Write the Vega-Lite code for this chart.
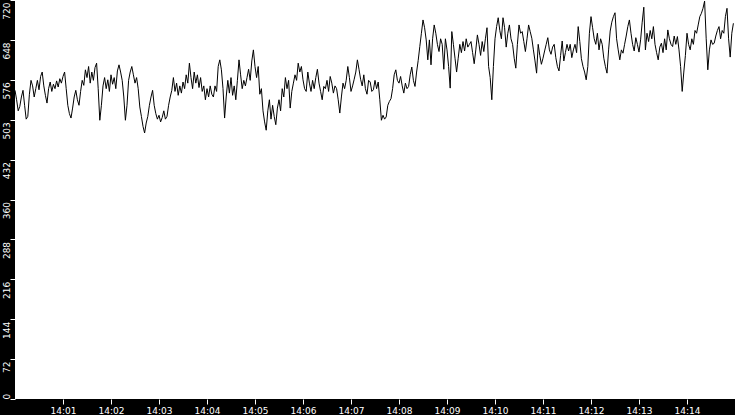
{
"$schema": "https://vega.github.io/schema/vega-lite/v6.json",
"width": 720,
"height": 399,
"autosize": {"type": "none"},
"padding": {"left": 15, "top": 0, "right": 0, "bottom": 16},
"background": "black",
"config": {"view": {"fill": "white", "stroke": null}, "font": "DejaVu Sans"},
"data": {"values": [
{"t":"2024-01-01T14:00:00","v":557},{"t":"2024-01-01T14:00:02","v":540},{"t":"2024-01-01T14:00:04","v":520},{"t":"2024-01-01T14:00:06","v":528},{"t":"2024-01-01T14:00:08","v":545},{"t":"2024-01-01T14:00:10","v":557},{"t":"2024-01-01T14:00:12","v":530},{"t":"2024-01-01T14:00:14","v":505},{"t":"2024-01-01T14:00:16","v":510},{"t":"2024-01-01T14:00:18","v":550},
{"t":"2024-01-01T14:00:20","v":575},{"t":"2024-01-01T14:00:22","v":565},{"t":"2024-01-01T14:00:24","v":545},{"t":"2024-01-01T14:00:26","v":560},{"t":"2024-01-01T14:00:28","v":575},{"t":"2024-01-01T14:00:30","v":558},{"t":"2024-01-01T14:00:32","v":582},{"t":"2024-01-01T14:00:34","v":590},{"t":"2024-01-01T14:00:36","v":565},{"t":"2024-01-01T14:00:38","v":548},
{"t":"2024-01-01T14:00:40","v":534},{"t":"2024-01-01T14:00:42","v":560},{"t":"2024-01-01T14:00:44","v":572},{"t":"2024-01-01T14:00:46","v":555},{"t":"2024-01-01T14:00:48","v":568},{"t":"2024-01-01T14:00:50","v":560},{"t":"2024-01-01T14:00:52","v":574},{"t":"2024-01-01T14:00:54","v":563},{"t":"2024-01-01T14:00:56","v":578},{"t":"2024-01-01T14:00:58","v":570},
{"t":"2024-01-01T14:01:00","v":582},{"t":"2024-01-01T14:01:02","v":590},{"t":"2024-01-01T14:01:04","v":560},{"t":"2024-01-01T14:01:06","v":530},{"t":"2024-01-01T14:01:08","v":515},{"t":"2024-01-01T14:01:10","v":507},{"t":"2024-01-01T14:01:12","v":525},{"t":"2024-01-01T14:01:14","v":545},{"t":"2024-01-01T14:01:16","v":557},{"t":"2024-01-01T14:01:18","v":540},
{"t":"2024-01-01T14:01:20","v":530},{"t":"2024-01-01T14:01:22","v":555},{"t":"2024-01-01T14:01:24","v":575},{"t":"2024-01-01T14:01:26","v":566},{"t":"2024-01-01T14:01:28","v":594},{"t":"2024-01-01T14:01:30","v":580},{"t":"2024-01-01T14:01:32","v":600},{"t":"2024-01-01T14:01:34","v":570},{"t":"2024-01-01T14:01:36","v":590},{"t":"2024-01-01T14:01:38","v":575},
{"t":"2024-01-01T14:01:40","v":598},{"t":"2024-01-01T14:01:42","v":606},{"t":"2024-01-01T14:01:44","v":560},{"t":"2024-01-01T14:01:46","v":503},{"t":"2024-01-01T14:01:48","v":530},{"t":"2024-01-01T14:01:50","v":565},{"t":"2024-01-01T14:01:52","v":580},{"t":"2024-01-01T14:01:54","v":560},{"t":"2024-01-01T14:01:56","v":576},{"t":"2024-01-01T14:01:58","v":555},
{"t":"2024-01-01T14:02:00","v":585},{"t":"2024-01-01T14:02:02","v":568},{"t":"2024-01-01T14:02:04","v":580},{"t":"2024-01-01T14:02:06","v":560},{"t":"2024-01-01T14:02:08","v":592},{"t":"2024-01-01T14:02:10","v":603},{"t":"2024-01-01T14:02:12","v":590},{"t":"2024-01-01T14:02:14","v":575},{"t":"2024-01-01T14:02:16","v":545},{"t":"2024-01-01T14:02:18","v":503},
{"t":"2024-01-01T14:02:20","v":530},{"t":"2024-01-01T14:02:22","v":575},{"t":"2024-01-01T14:02:24","v":590},{"t":"2024-01-01T14:02:26","v":600},{"t":"2024-01-01T14:02:28","v":585},{"t":"2024-01-01T14:02:30","v":570},{"t":"2024-01-01T14:02:32","v":580},{"t":"2024-01-01T14:02:34","v":560},{"t":"2024-01-01T14:02:36","v":527},{"t":"2024-01-01T14:02:38","v":510},
{"t":"2024-01-01T14:02:40","v":492},{"t":"2024-01-01T14:02:42","v":480},{"t":"2024-01-01T14:02:44","v":498},{"t":"2024-01-01T14:02:46","v":510},{"t":"2024-01-01T14:02:48","v":530},{"t":"2024-01-01T14:02:50","v":545},{"t":"2024-01-01T14:02:52","v":557},{"t":"2024-01-01T14:02:54","v":530},{"t":"2024-01-01T14:02:56","v":515},{"t":"2024-01-01T14:02:58","v":505},
{"t":"2024-01-01T14:03:00","v":512},{"t":"2024-01-01T14:03:02","v":500},{"t":"2024-01-01T14:03:04","v":508},{"t":"2024-01-01T14:03:06","v":520},{"t":"2024-01-01T14:03:08","v":505},{"t":"2024-01-01T14:03:10","v":510},{"t":"2024-01-01T14:03:12","v":530},{"t":"2024-01-01T14:03:14","v":545},{"t":"2024-01-01T14:03:16","v":557},{"t":"2024-01-01T14:03:18","v":580},
{"t":"2024-01-01T14:03:20","v":555},{"t":"2024-01-01T14:03:22","v":570},{"t":"2024-01-01T14:03:24","v":548},{"t":"2024-01-01T14:03:26","v":565},{"t":"2024-01-01T14:03:28","v":552},{"t":"2024-01-01T14:03:30","v":572},{"t":"2024-01-01T14:03:32","v":560},{"t":"2024-01-01T14:03:34","v":585},{"t":"2024-01-01T14:03:36","v":570},{"t":"2024-01-01T14:03:38","v":606},
{"t":"2024-01-01T14:03:40","v":580},{"t":"2024-01-01T14:03:42","v":560},{"t":"2024-01-01T14:03:44","v":590},{"t":"2024-01-01T14:03:46","v":570},{"t":"2024-01-01T14:03:48","v":585},{"t":"2024-01-01T14:03:50","v":562},{"t":"2024-01-01T14:03:52","v":580},{"t":"2024-01-01T14:03:54","v":555},{"t":"2024-01-01T14:03:56","v":565},{"t":"2024-01-01T14:03:58","v":540},
{"t":"2024-01-01T14:04:00","v":560},{"t":"2024-01-01T14:04:02","v":545},{"t":"2024-01-01T14:04:04","v":565},{"t":"2024-01-01T14:04:06","v":550},{"t":"2024-01-01T14:04:08","v":545},{"t":"2024-01-01T14:04:10","v":565},{"t":"2024-01-01T14:04:12","v":555},{"t":"2024-01-01T14:04:14","v":600},{"t":"2024-01-01T14:04:16","v":612},{"t":"2024-01-01T14:04:18","v":594},
{"t":"2024-01-01T14:04:20","v":560},{"t":"2024-01-01T14:04:22","v":507},{"t":"2024-01-01T14:04:24","v":545},{"t":"2024-01-01T14:04:26","v":575},{"t":"2024-01-01T14:04:28","v":552},{"t":"2024-01-01T14:04:30","v":580},{"t":"2024-01-01T14:04:32","v":548},{"t":"2024-01-01T14:04:34","v":565},{"t":"2024-01-01T14:04:36","v":540},{"t":"2024-01-01T14:04:38","v":575},
{"t":"2024-01-01T14:04:40","v":612},{"t":"2024-01-01T14:04:42","v":585},{"t":"2024-01-01T14:04:44","v":560},{"t":"2024-01-01T14:04:46","v":575},{"t":"2024-01-01T14:04:48","v":565},{"t":"2024-01-01T14:04:50","v":580},{"t":"2024-01-01T14:04:52","v":595},{"t":"2024-01-01T14:04:54","v":575},{"t":"2024-01-01T14:04:56","v":610},{"t":"2024-01-01T14:04:58","v":630},
{"t":"2024-01-01T14:05:00","v":600},{"t":"2024-01-01T14:05:02","v":580},{"t":"2024-01-01T14:05:04","v":600},{"t":"2024-01-01T14:05:06","v":550},{"t":"2024-01-01T14:05:08","v":560},{"t":"2024-01-01T14:05:10","v":520},{"t":"2024-01-01T14:05:12","v":500},{"t":"2024-01-01T14:05:14","v":485},{"t":"2024-01-01T14:05:16","v":520},{"t":"2024-01-01T14:05:18","v":540},
{"t":"2024-01-01T14:05:20","v":505},{"t":"2024-01-01T14:05:22","v":530},{"t":"2024-01-01T14:05:24","v":510},{"t":"2024-01-01T14:05:26","v":495},{"t":"2024-01-01T14:05:28","v":525},{"t":"2024-01-01T14:05:30","v":540},{"t":"2024-01-01T14:05:32","v":520},{"t":"2024-01-01T14:05:34","v":560},{"t":"2024-01-01T14:05:36","v":545},{"t":"2024-01-01T14:05:38","v":580},
{"t":"2024-01-01T14:05:40","v":560},{"t":"2024-01-01T14:05:42","v":575},{"t":"2024-01-01T14:05:44","v":525},{"t":"2024-01-01T14:05:46","v":555},{"t":"2024-01-01T14:05:48","v":570},{"t":"2024-01-01T14:05:50","v":585},{"t":"2024-01-01T14:05:52","v":575},{"t":"2024-01-01T14:05:54","v":606},{"t":"2024-01-01T14:05:56","v":590},{"t":"2024-01-01T14:05:58","v":600},
{"t":"2024-01-01T14:06:00","v":576},{"t":"2024-01-01T14:06:02","v":560},{"t":"2024-01-01T14:06:04","v":555},{"t":"2024-01-01T14:06:06","v":590},{"t":"2024-01-01T14:06:08","v":570},{"t":"2024-01-01T14:06:10","v":555},{"t":"2024-01-01T14:06:12","v":575},{"t":"2024-01-01T14:06:14","v":560},{"t":"2024-01-01T14:06:16","v":580},{"t":"2024-01-01T14:06:18","v":595},
{"t":"2024-01-01T14:06:20","v":570},{"t":"2024-01-01T14:06:22","v":555},{"t":"2024-01-01T14:06:24","v":540},{"t":"2024-01-01T14:06:26","v":564},{"t":"2024-01-01T14:06:28","v":560},{"t":"2024-01-01T14:06:30","v":575},{"t":"2024-01-01T14:06:32","v":555},{"t":"2024-01-01T14:06:34","v":582},{"t":"2024-01-01T14:06:36","v":570},{"t":"2024-01-01T14:06:38","v":552},
{"t":"2024-01-01T14:06:40","v":565},{"t":"2024-01-01T14:06:42","v":560},{"t":"2024-01-01T14:06:44","v":540},{"t":"2024-01-01T14:06:46","v":516},{"t":"2024-01-01T14:06:48","v":545},{"t":"2024-01-01T14:06:50","v":570},{"t":"2024-01-01T14:06:52","v":560},{"t":"2024-01-01T14:06:54","v":575},{"t":"2024-01-01T14:06:56","v":600},{"t":"2024-01-01T14:06:58","v":580},
{"t":"2024-01-01T14:07:00","v":555},{"t":"2024-01-01T14:07:02","v":565},{"t":"2024-01-01T14:07:04","v":577},{"t":"2024-01-01T14:07:06","v":590},{"t":"2024-01-01T14:07:08","v":612},{"t":"2024-01-01T14:07:10","v":595},{"t":"2024-01-01T14:07:12","v":577},{"t":"2024-01-01T14:07:14","v":565},{"t":"2024-01-01T14:07:16","v":585},{"t":"2024-01-01T14:07:18","v":560},
{"t":"2024-01-01T14:07:20","v":550},{"t":"2024-01-01T14:07:22","v":575},{"t":"2024-01-01T14:07:24","v":572},{"t":"2024-01-01T14:07:26","v":555},{"t":"2024-01-01T14:07:28","v":558},{"t":"2024-01-01T14:07:30","v":575},{"t":"2024-01-01T14:07:32","v":560},{"t":"2024-01-01T14:07:34","v":572},{"t":"2024-01-01T14:07:36","v":540},{"t":"2024-01-01T14:07:38","v":503},
{"t":"2024-01-01T14:07:40","v":512},{"t":"2024-01-01T14:07:42","v":505},{"t":"2024-01-01T14:07:44","v":509},{"t":"2024-01-01T14:07:46","v":530},{"t":"2024-01-01T14:07:48","v":537},{"t":"2024-01-01T14:07:50","v":542},{"t":"2024-01-01T14:07:52","v":560},{"t":"2024-01-01T14:07:54","v":585},{"t":"2024-01-01T14:07:56","v":594},{"t":"2024-01-01T14:07:58","v":575},
{"t":"2024-01-01T14:08:00","v":570},{"t":"2024-01-01T14:08:02","v":582},{"t":"2024-01-01T14:08:04","v":565},{"t":"2024-01-01T14:08:06","v":552},{"t":"2024-01-01T14:08:08","v":570},{"t":"2024-01-01T14:08:10","v":560},{"t":"2024-01-01T14:08:12","v":564},{"t":"2024-01-01T14:08:14","v":585},{"t":"2024-01-01T14:08:16","v":599},{"t":"2024-01-01T14:08:18","v":575},
{"t":"2024-01-01T14:08:20","v":564},{"t":"2024-01-01T14:08:22","v":590},{"t":"2024-01-01T14:08:24","v":611},{"t":"2024-01-01T14:08:26","v":636},{"t":"2024-01-01T14:08:28","v":660},{"t":"2024-01-01T14:08:30","v":684},{"t":"2024-01-01T14:08:32","v":670},{"t":"2024-01-01T14:08:34","v":648},{"t":"2024-01-01T14:08:36","v":612},{"t":"2024-01-01T14:08:38","v":648},
{"t":"2024-01-01T14:08:40","v":603},{"t":"2024-01-01T14:08:42","v":650},{"t":"2024-01-01T14:08:44","v":675},{"t":"2024-01-01T14:08:46","v":660},{"t":"2024-01-01T14:08:48","v":640},{"t":"2024-01-01T14:08:50","v":627},{"t":"2024-01-01T14:08:52","v":650},{"t":"2024-01-01T14:08:54","v":640},{"t":"2024-01-01T14:08:56","v":595},{"t":"2024-01-01T14:08:58","v":650},
{"t":"2024-01-01T14:09:00","v":630},{"t":"2024-01-01T14:09:02","v":600},{"t":"2024-01-01T14:09:04","v":561},{"t":"2024-01-01T14:09:06","v":663},{"t":"2024-01-01T14:09:08","v":640},{"t":"2024-01-01T14:09:10","v":615},{"t":"2024-01-01T14:09:12","v":590},{"t":"2024-01-01T14:09:14","v":615},{"t":"2024-01-01T14:09:16","v":640},{"t":"2024-01-01T14:09:18","v":625},
{"t":"2024-01-01T14:09:20","v":645},{"t":"2024-01-01T14:09:22","v":628},{"t":"2024-01-01T14:09:24","v":650},{"t":"2024-01-01T14:09:26","v":635},{"t":"2024-01-01T14:09:28","v":640},{"t":"2024-01-01T14:09:30","v":645},{"t":"2024-01-01T14:09:32","v":625},{"t":"2024-01-01T14:09:34","v":605},{"t":"2024-01-01T14:09:36","v":630},{"t":"2024-01-01T14:09:38","v":657},
{"t":"2024-01-01T14:09:40","v":640},{"t":"2024-01-01T14:09:42","v":620},{"t":"2024-01-01T14:09:44","v":645},{"t":"2024-01-01T14:09:46","v":627},{"t":"2024-01-01T14:09:48","v":650},{"t":"2024-01-01T14:09:50","v":670},{"t":"2024-01-01T14:09:52","v":600},{"t":"2024-01-01T14:09:54","v":580},{"t":"2024-01-01T14:09:56","v":540},{"t":"2024-01-01T14:09:58","v":600},
{"t":"2024-01-01T14:10:00","v":650},{"t":"2024-01-01T14:10:02","v":672},{"t":"2024-01-01T14:10:04","v":688},{"t":"2024-01-01T14:10:06","v":665},{"t":"2024-01-01T14:10:08","v":650},{"t":"2024-01-01T14:10:10","v":688},{"t":"2024-01-01T14:10:12","v":670},{"t":"2024-01-01T14:10:14","v":635},{"t":"2024-01-01T14:10:16","v":660},{"t":"2024-01-01T14:10:18","v":675},
{"t":"2024-01-01T14:10:20","v":650},{"t":"2024-01-01T14:10:22","v":640},{"t":"2024-01-01T14:10:24","v":615},{"t":"2024-01-01T14:10:26","v":597},{"t":"2024-01-01T14:10:28","v":640},{"t":"2024-01-01T14:10:30","v":675},{"t":"2024-01-01T14:10:32","v":660},{"t":"2024-01-01T14:10:34","v":663},{"t":"2024-01-01T14:10:36","v":645},{"t":"2024-01-01T14:10:38","v":627},
{"t":"2024-01-01T14:10:40","v":650},{"t":"2024-01-01T14:10:42","v":675},{"t":"2024-01-01T14:10:44","v":663},{"t":"2024-01-01T14:10:46","v":651},{"t":"2024-01-01T14:10:48","v":630},{"t":"2024-01-01T14:10:50","v":610},{"t":"2024-01-01T14:10:52","v":588},{"t":"2024-01-01T14:10:54","v":640},{"t":"2024-01-01T14:10:56","v":620},{"t":"2024-01-01T14:10:58","v":604},
{"t":"2024-01-01T14:11:00","v":615},{"t":"2024-01-01T14:11:02","v":628},{"t":"2024-01-01T14:11:04","v":640},{"t":"2024-01-01T14:11:06","v":652},{"t":"2024-01-01T14:11:08","v":630},{"t":"2024-01-01T14:11:10","v":622},{"t":"2024-01-01T14:11:12","v":635},{"t":"2024-01-01T14:11:14","v":640},{"t":"2024-01-01T14:11:16","v":616},{"t":"2024-01-01T14:11:18","v":600},
{"t":"2024-01-01T14:11:20","v":592},{"t":"2024-01-01T14:11:22","v":620},{"t":"2024-01-01T14:11:24","v":646},{"t":"2024-01-01T14:11:26","v":610},{"t":"2024-01-01T14:11:28","v":625},{"t":"2024-01-01T14:11:30","v":640},{"t":"2024-01-01T14:11:32","v":628},{"t":"2024-01-01T14:11:34","v":640},{"t":"2024-01-01T14:11:36","v":616},{"t":"2024-01-01T14:11:38","v":630},
{"t":"2024-01-01T14:11:40","v":640},{"t":"2024-01-01T14:11:42","v":625},{"t":"2024-01-01T14:11:44","v":672},{"t":"2024-01-01T14:11:46","v":645},{"t":"2024-01-01T14:11:48","v":614},{"t":"2024-01-01T14:11:50","v":600},{"t":"2024-01-01T14:11:52","v":590},{"t":"2024-01-01T14:11:54","v":576},{"t":"2024-01-01T14:11:56","v":600},{"t":"2024-01-01T14:11:58","v":660},
{"t":"2024-01-01T14:12:00","v":690},{"t":"2024-01-01T14:12:02","v":670},{"t":"2024-01-01T14:12:04","v":650},{"t":"2024-01-01T14:12:06","v":640},{"t":"2024-01-01T14:12:08","v":660},{"t":"2024-01-01T14:12:10","v":630},{"t":"2024-01-01T14:12:12","v":650},{"t":"2024-01-01T14:12:14","v":640},{"t":"2024-01-01T14:12:16","v":615},{"t":"2024-01-01T14:12:18","v":600},
{"t":"2024-01-01T14:12:20","v":588},{"t":"2024-01-01T14:12:22","v":630},{"t":"2024-01-01T14:12:24","v":664},{"t":"2024-01-01T14:12:26","v":680},{"t":"2024-01-01T14:12:28","v":690},{"t":"2024-01-01T14:12:30","v":697},{"t":"2024-01-01T14:12:32","v":650},{"t":"2024-01-01T14:12:34","v":630},{"t":"2024-01-01T14:12:36","v":612},{"t":"2024-01-01T14:12:38","v":630},
{"t":"2024-01-01T14:12:40","v":624},{"t":"2024-01-01T14:12:42","v":640},{"t":"2024-01-01T14:12:44","v":655},{"t":"2024-01-01T14:12:46","v":672},{"t":"2024-01-01T14:12:48","v":684},{"t":"2024-01-01T14:12:50","v":660},{"t":"2024-01-01T14:12:52","v":640},{"t":"2024-01-01T14:12:54","v":628},{"t":"2024-01-01T14:12:56","v":652},{"t":"2024-01-01T14:12:58","v":640},
{"t":"2024-01-01T14:13:00","v":626},{"t":"2024-01-01T14:13:02","v":648},{"t":"2024-01-01T14:13:04","v":680},{"t":"2024-01-01T14:13:06","v":707},{"t":"2024-01-01T14:13:08","v":630},{"t":"2024-01-01T14:13:10","v":660},{"t":"2024-01-01T14:13:12","v":645},{"t":"2024-01-01T14:13:14","v":665},{"t":"2024-01-01T14:13:16","v":650},{"t":"2024-01-01T14:13:18","v":672},
{"t":"2024-01-01T14:13:20","v":640},{"t":"2024-01-01T14:13:22","v":625},{"t":"2024-01-01T14:13:24","v":612},{"t":"2024-01-01T14:13:26","v":635},{"t":"2024-01-01T14:13:28","v":642},{"t":"2024-01-01T14:13:30","v":625},{"t":"2024-01-01T14:13:32","v":650},{"t":"2024-01-01T14:13:34","v":630},{"t":"2024-01-01T14:13:36","v":666},{"t":"2024-01-01T14:13:38","v":650},
{"t":"2024-01-01T14:13:40","v":640},{"t":"2024-01-01T14:13:42","v":636},{"t":"2024-01-01T14:13:44","v":655},{"t":"2024-01-01T14:13:46","v":640},{"t":"2024-01-01T14:13:48","v":654},{"t":"2024-01-01T14:13:50","v":630},{"t":"2024-01-01T14:13:52","v":600},{"t":"2024-01-01T14:13:54","v":555},{"t":"2024-01-01T14:13:56","v":590},{"t":"2024-01-01T14:13:58","v":620},
{"t":"2024-01-01T14:14:00","v":660},{"t":"2024-01-01T14:14:02","v":640},{"t":"2024-01-01T14:14:04","v":630},{"t":"2024-01-01T14:14:06","v":650},{"t":"2024-01-01T14:14:08","v":640},{"t":"2024-01-01T14:14:10","v":665},{"t":"2024-01-01T14:14:12","v":660},{"t":"2024-01-01T14:14:14","v":675},{"t":"2024-01-01T14:14:16","v":690},{"t":"2024-01-01T14:14:18","v":696},
{"t":"2024-01-01T14:14:20","v":705},{"t":"2024-01-01T14:14:22","v":718},{"t":"2024-01-01T14:14:24","v":650},{"t":"2024-01-01T14:14:26","v":594},{"t":"2024-01-01T14:14:28","v":630},{"t":"2024-01-01T14:14:30","v":648},{"t":"2024-01-01T14:14:32","v":640},{"t":"2024-01-01T14:14:34","v":642},{"t":"2024-01-01T14:14:36","v":655},{"t":"2024-01-01T14:14:38","v":665},
{"t":"2024-01-01T14:14:40","v":672},{"t":"2024-01-01T14:14:42","v":650},{"t":"2024-01-01T14:14:44","v":665},{"t":"2024-01-01T14:14:46","v":660},{"t":"2024-01-01T14:14:48","v":690},{"t":"2024-01-01T14:14:50","v":705},{"t":"2024-01-01T14:14:52","v":650},{"t":"2024-01-01T14:14:54","v":617},{"t":"2024-01-01T14:14:56","v":660},{"t":"2024-01-01T14:14:58","v":678}
]},
"mark": {"type": "line", "color": "black", "strokeWidth": 1},
"encoding": {
  "x": {
    "field": "t", "type": "temporal",
    "scale": {"domain": [
      {"year": 2024, "month": 1, "date": 1, "hours": 14, "minutes": 0, "seconds": 0},
      {"year": 2024, "month": 1, "date": 1, "hours": 14, "minutes": 15, "seconds": 0}
    ]},
    "axis": {
      "values": [
        {"year": 2024, "month": 1, "date": 1, "hours": 14, "minutes": 1},
        {"year": 2024, "month": 1, "date": 1, "hours": 14, "minutes": 2},
        {"year": 2024, "month": 1, "date": 1, "hours": 14, "minutes": 3},
        {"year": 2024, "month": 1, "date": 1, "hours": 14, "minutes": 4},
        {"year": 2024, "month": 1, "date": 1, "hours": 14, "minutes": 5},
        {"year": 2024, "month": 1, "date": 1, "hours": 14, "minutes": 6},
        {"year": 2024, "month": 1, "date": 1, "hours": 14, "minutes": 7},
        {"year": 2024, "month": 1, "date": 1, "hours": 14, "minutes": 8},
        {"year": 2024, "month": 1, "date": 1, "hours": 14, "minutes": 9},
        {"year": 2024, "month": 1, "date": 1, "hours": 14, "minutes": 10},
        {"year": 2024, "month": 1, "date": 1, "hours": 14, "minutes": 11},
        {"year": 2024, "month": 1, "date": 1, "hours": 14, "minutes": 12},
        {"year": 2024, "month": 1, "date": 1, "hours": 14, "minutes": 13},
        {"year": 2024, "month": 1, "date": 1, "hours": 14, "minutes": 14}
      ],
      "format": "%H:%M",
      "title": null,
      "grid": false,
      "domain": false,
      "tickSize": 5,
      "tickWidth": 1,
      "tickColor": "white",
      "labelColor": "white",
      "labelFont": "DejaVu Sans",
      "labelFontSize": 9,
      "labelPadding": 2,
      "labelFlush": false,
      "labelOverlap": false
    }
  },
  "y": {
    "field": "v", "type": "quantitative",
    "scale": {"domain": [0, 720], "nice": false, "zero": true},
    "axis": {
      "values": [0, 72, 144, 216, 288, 360, 432, 504, 576, 648, 720],
      "labelExpr": "datum.value == 504 ? '503' : datum.label",
      "title": null,
      "grid": false,
      "domain": false,
      "tickSize": 5,
      "tickWidth": 1,
      "tickColor": "white",
      "labelColor": "white",
      "labelFont": "DejaVu Sans",
      "labelFontSize": 9,
      "labelAngle": 270,
      "labelAlign": {"condition": {"test": "datum.value == 0", "value": "left"}, "value": "right"},
      "labelBaseline": "alphabetic",
      "labelOffset": {"condition": {"test": "datum.value == 0", "value": 0}, "value": 2},
      "labelPadding": 0.5,
      "labelFlush": false,
      "labelOverlap": false
    }
  }
}
}
